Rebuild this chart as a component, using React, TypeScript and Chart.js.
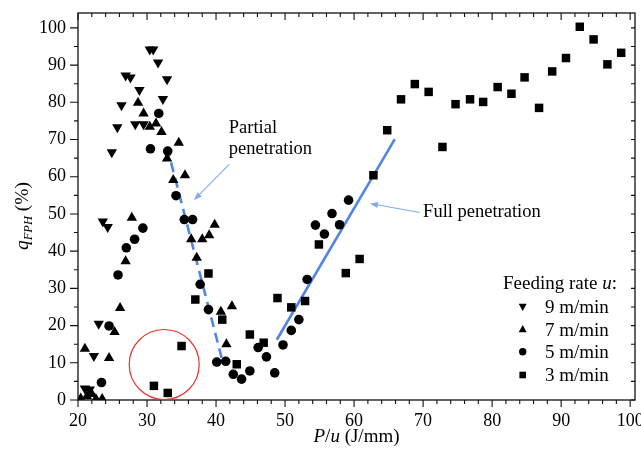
import React, { useEffect, useRef } from 'react';
import { Chart, registerables } from 'chart.js';

Chart.register(...registerables);

// ---------- data ----------
const X_TICKS = [20, 30, 40, 50, 60, 70, 80, 90, 100];
const Y_TICKS = [0, 10, 20, 30, 40, 50, 60, 70, 80, 90, 100];

const LEGEND_TITLE = 'Feeding rate ';
const LEGEND_LABELS = ['9 m/min', '7 m/min', '5 m/min', '3 m/min'];

// 9 m/min (down triangles)
const RATE9: [number, number][] = [
  [30.4, 94.2], [30.9, 94.2], [31.6, 90.7], [26.9, 87.2], [27.6, 86.7], [32.9, 86.2],
  [28.9, 83.3], [32.3, 80.9], [26.3, 79.2], [25.7, 73.3], [28.3, 74.1], [29.5, 74.1],
  [24.9, 66.6], [23.6, 48.0], [24.3, 46.5], [23.0, 20.5], [22.3, 11.8], [21.0, 3.1], [21.7, 2.8],
];
// 7 m/min (up triangles)
const RATE7: [number, number][] = [
  [28.7, 79.9], [29.5, 77.0], [30.4, 73.4], [31.3, 74.3], [32.1, 72.0], [34.6, 69.1],
  [32.9, 64.9], [33.8, 59.1], [35.5, 60.4], [27.8, 49.0], [39.8, 47.1], [36.4, 43.2],
  [38.0, 43.2], [39.0, 44.3], [37.2, 38.2], [26.9, 37.3], [42.3, 25.2], [40.7, 23.7],
  [26.1, 24.7], [25.3, 18.3], [41.5, 15.0], [21.0, 13.8], [24.5, 11.3], [20.4, 0.4],
  [21.3, 1.0], [22.0, 1.6], [22.6, 0.3], [23.5, 0.3],
];
// 5 m/min (circles)
const RATE5: [number, number][] = [
  [31.7, 77.0], [30.5, 67.5], [33.0, 66.9], [34.2, 54.9], [35.4, 48.5], [36.6, 48.5],
  [29.4, 46.2], [28.2, 43.2], [27.0, 40.9], [25.8, 33.6], [37.7, 31.1], [38.9, 24.3],
  [24.5, 19.9], [23.4, 4.7], [40.1, 10.2], [41.4, 10.4], [42.5, 6.9], [43.7, 5.6],
  [44.9, 7.8], [46.1, 14.1], [47.3, 11.6], [48.5, 7.3], [49.7, 14.8], [50.9, 18.7],
  [52.0, 21.6], [53.2, 32.4], [54.4, 47.0], [55.7, 44.6], [56.8, 50.1], [57.9, 47.1], [59.2, 53.7],
];
// 3 m/min (squares)
const RATE3: [number, number][] = [
  [31.0, 3.8], [33.0, 1.9], [35.0, 14.5], [37.0, 27.0], [38.9, 34.0], [40.9, 21.6],
  [43.0, 9.6], [44.9, 17.6], [46.9, 15.4], [48.9, 27.4], [50.9, 24.9], [52.9, 26.6],
  [54.9, 41.8], [58.8, 34.1], [60.8, 37.9], [62.8, 60.4], [64.8, 72.5], [66.8, 80.8],
  [68.8, 84.9], [70.8, 82.8], [72.8, 68.0], [74.7, 79.5], [76.8, 80.8], [78.7, 80.1],
  [80.8, 84.1], [82.8, 82.3], [84.7, 86.7], [86.8, 78.5], [88.7, 88.3], [90.7, 91.9],
  [92.7, 100.3], [94.7, 96.9], [96.7, 90.2], [98.7, 93.3],
];

// trend lines
const PARTIAL_LINE: [number, number][] = [[32.9, 68.0], [40.9, 10.7]];
const FULL_LINE: [number, number][] = [[48.8, 16.2], [65.9, 70.1]];

// ---------- drawing helpers ----------
const FONT = '"Liberation Serif", "Times New Roman", Times, serif';
const LINE_BLUE = 'rgb(82,134,228)';
const ARROW_BLUE = 'rgb(132,170,238)';

type Part = { t: string; it?: boolean; size: number; dy?: number };

function drawRich(ctx: CanvasRenderingContext2D, parts: Part[], x: number, y: number, align: 'left' | 'center') {
  ctx.save();
  ctx.textBaseline = 'alphabetic';
  ctx.textAlign = 'left';
  ctx.fillStyle = '#000';
  const widths = parts.map((p) => {
    ctx.font = `${p.it ? 'italic ' : ''}${p.size}px ${FONT}`;
    return ctx.measureText(p.t).width;
  });
  const total = widths.reduce((a, b) => a + b, 0);
  let cx = align === 'center' ? x - total / 2 : x;
  parts.forEach((p, i) => {
    ctx.font = `${p.it ? 'italic ' : ''}${p.size}px ${FONT}`;
    ctx.fillText(p.t, cx, y + (p.dy || 0));
    cx += widths[i];
  });
  ctx.restore();
}

function drawMarker(ctx: CanvasRenderingContext2D, style: string, x: number, y: number, r: number) {
  ctx.beginPath();
  if (style === 'circle') {
    ctx.arc(x, y, r, 0, Math.PI * 2);
  } else if (style === 'rect') {
    ctx.rect(x - r, y - r, 2 * r, 2 * r);
  } else if (style === 'up') {
    ctx.moveTo(x, y - r * 1.1);
    ctx.lineTo(x + r * 1.05, y + r * 0.75);
    ctx.lineTo(x - r * 1.05, y + r * 0.75);
    ctx.closePath();
  } else {
    ctx.moveTo(x, y + r * 1.1);
    ctx.lineTo(x + r * 1.05, y - r * 0.75);
    ctx.lineTo(x - r * 1.05, y - r * 0.75);
    ctx.closePath();
  }
  ctx.fill();
}

function arrow(ctx: CanvasRenderingContext2D, x1: number, y1: number, x2: number, y2: number) {
  const ang = Math.atan2(y2 - y1, x2 - x1);
  const hl = 8, hw = 3;
  ctx.beginPath();
  ctx.moveTo(x1, y1);
  ctx.lineTo(x2 - Math.cos(ang) * hl * 0.7, y2 - Math.sin(ang) * hl * 0.7);
  ctx.stroke();
  ctx.beginPath();
  ctx.moveTo(x2, y2);
  ctx.lineTo(x2 - Math.cos(ang) * hl - Math.sin(ang) * hw, y2 - Math.sin(ang) * hl + Math.cos(ang) * hw);
  ctx.lineTo(x2 - Math.cos(ang) * hl + Math.sin(ang) * hw, y2 - Math.sin(ang) * hl - Math.cos(ang) * hw);
  ctx.closePath();
  ctx.fill();
}

const decor = {
  id: 'decor',
  afterDraw(chart: any) {
    const ctx: CanvasRenderingContext2D = chart.ctx;
    const { left, right, top, bottom } = chart.chartArea;
    const xs = chart.scales.x;
    const ys = chart.scales.y;
    const X = (v: number) => xs.getPixelForValue(v);
    const Y = (v: number) => ys.getPixelForValue(v);
    ctx.save();

    // frame
    ctx.strokeStyle = '#111';
    ctx.lineWidth = 1.3;
    ctx.strokeRect(left, top, right - left, bottom - top);

    // ticks
    ctx.lineWidth = 1.1;
    ctx.beginPath();
    for (let v = X_TICKS[0]; v <= X_TICKS[X_TICKS.length - 1] + 0.01; v += 2) {
      const px = X(v);
      const L = Math.abs(v % 10) < 0.01 ? 7 : 4;
      ctx.moveTo(px, bottom);
      ctx.lineTo(px, bottom + L);
      ctx.moveTo(px, top);
      ctx.lineTo(px, top + L);
    }
    for (let v = Y_TICKS[0]; v <= Y_TICKS[Y_TICKS.length - 1] + 0.01; v += 5) {
      const py = Y(v);
      const L = Math.abs(v % 10) < 0.01 ? 8 : 4;
      ctx.moveTo(left - L, py);
      ctx.lineTo(left, py);
      ctx.moveTo(right - 4, py);
      ctx.lineTo(right, py);
    }
    ctx.stroke();

    // red circle
    ctx.strokeStyle = 'rgb(232,52,44)';
    ctx.lineWidth = 1.2;
    ctx.beginPath();
    ctx.arc(X(32.49), Y(9.54), 35, 0, Math.PI * 2);
    ctx.stroke();

    // annotation arrows
    ctx.strokeStyle = ARROW_BLUE;
    ctx.fillStyle = ARROW_BLUE;
    ctx.lineWidth = 1.1;
    arrow(ctx, X(41.9), Y(63.3), X(36.8), Y(53.7));
    arrow(ctx, X(69.5), Y(50.4), X(62.3), Y(52.8));

    // annotation text
    drawRich(ctx, [{ t: 'Partial', size: 18.5 }], X(41.85), Y(71.7), 'left');
    drawRich(ctx, [{ t: 'penetration', size: 18.5 }], X(41.85), Y(66.05), 'left');
    drawRich(ctx, [{ t: 'Full penetration', size: 18.5 }], X(70.0), Y(49.2), 'left');

    // axis titles
    drawRich(
      ctx,
      [
        { t: 'P', it: true, size: 19 },
        { t: '/', size: 19 },
        { t: 'u', it: true, size: 19 },
        { t: ' (J/mm)', size: 19 },
      ],
      (left + right) / 2,
      442,
      'center'
    );
    ctx.save();
    ctx.translate(28, 216);
    ctx.rotate(-Math.PI / 2);
    drawRich(
      ctx,
      [
        { t: 'q', it: true, size: 19.5 },
        { t: 'FPH', it: true, size: 12.5, dy: 4 },
        { t: ' (%)', size: 19.5 },
      ],
      0,
      0,
      'center'
    );
    ctx.restore();

    // legend
    drawRich(
      ctx,
      [
        { t: LEGEND_TITLE, size: 19 },
        { t: 'u', it: true, size: 19 },
        { t: ':', size: 19 },
      ],
      503,
      289,
      'left'
    );
    const styles = ['down', 'up', 'circle', 'rect'];
    const rowsY = [306.7, 329.3, 351.7, 375];
    ctx.fillStyle = '#000';
    LEGEND_LABELS.forEach((lab, i) => {
      const my = rowsY[i];
      ctx.fillStyle = '#000';
      drawMarker(ctx, styles[i], 522.7, my, styles[i] === 'rect' ? 3.3 : styles[i] === 'circle' ? 3.7 : 3.8);
      drawRich(ctx, [{ t: lab, size: 19 }], 545, my + 6.3, 'left');
    });

    ctx.restore();
  },
};

const toPts = (arr: [number, number][]) => arr.map(([x, y]) => ({ x, y }));

export default function App() {
  const ref = useRef<HTMLCanvasElement | null>(null);
  useEffect(() => {
    if (!ref.current) return;
    const tickFont = { family: FONT, size: 18 };
    const chart = new Chart(ref.current, {
      type: 'scatter',
      data: {
        datasets: [
          {
            label: '9 m/min',
            data: toPts(RATE9),
            pointStyle: 'triangle',
            pointRotation: 180,
            pointRadius: 6,
            backgroundColor: '#000',
            borderColor: '#000',
            borderWidth: 0,
          } as any,
          {
            label: '7 m/min',
            data: toPts(RATE7),
            pointStyle: 'triangle',
            pointRadius: 6,
            backgroundColor: '#000',
            borderColor: '#000',
            borderWidth: 0,
          },
          {
            label: '5 m/min',
            data: toPts(RATE5),
            pointStyle: 'circle',
            pointRadius: 4.8,
            backgroundColor: '#000',
            borderColor: '#000',
            borderWidth: 0,
          },
          {
            label: '3 m/min',
            data: toPts(RATE3),
            pointStyle: 'rect',
            pointRadius: 6,
            backgroundColor: '#000',
            borderColor: '#000',
            borderWidth: 0,
          },
          {
            label: 'partial',
            data: toPts(PARTIAL_LINE),
            showLine: true,
            pointRadius: 0,
            borderColor: LINE_BLUE,
            borderWidth: 2.6,
            borderDash: [10, 6],
            fill: false,
          },
          {
            label: 'full',
            data: toPts(FULL_LINE),
            showLine: true,
            pointRadius: 0,
            borderColor: LINE_BLUE,
            borderWidth: 2.6,
            fill: false,
          },
        ],
      },
      options: {
        responsive: false,
        animation: false,
        devicePixelRatio: 1,
        layout: { padding: { left: 0, right: 6, top: 13, bottom: 0 } },
        plugins: { legend: { display: false }, tooltip: { enabled: false } },
        scales: {
          x: {
            type: 'linear',
            position: 'bottom',
            min: 20,
            max: 100.7,
            grid: { display: false, drawTicks: false },
            border: { display: false },
            ticks: { font: tickFont, color: '#000', padding: 10, maxRotation: 0, autoSkip: false },
            afterBuildTicks: (s: any) => {
              s.ticks = X_TICKS.map((v) => ({ value: v }));
            },
            afterFit: (s: any) => {
              s.height = 57;
              s.paddingLeft = 0;
              s.paddingRight = 0;
            },
          },
          y: {
            type: 'linear',
            min: 0,
            max: 104,
            grid: { display: false, drawTicks: false },
            border: { display: false },
            ticks: { font: tickFont, color: '#000', padding: 12, autoSkip: false },
            afterBuildTicks: (s: any) => {
              s.ticks = Y_TICKS.map((v) => ({ value: v }));
            },
            afterFit: (s: any) => {
              s.width = 78;
              s.paddingTop = 0;
              s.paddingBottom = 0;
            },
          },
        },
      } as any,
      plugins: [decor],
    });
    return () => chart.destroy();
  }, []);

  return (
    <div style={{ position: 'fixed', left: 0, top: 0, width: 641, height: 457, background: '#fff' }}>
      <canvas ref={ref} width={641} height={457} style={{ display: 'block' }} />
    </div>
  );
}
